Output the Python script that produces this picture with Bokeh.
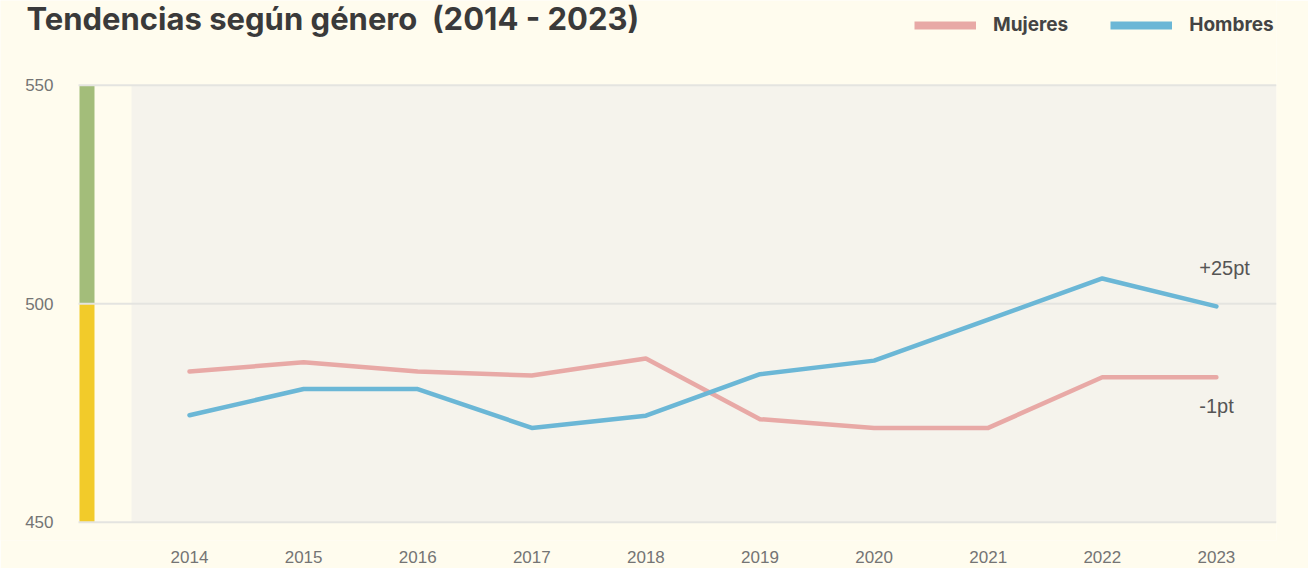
from bokeh.plotting import figure
from bokeh.models import (Range1d, FixedTicker, Legend, LegendItem, ColumnDataSource)
from bokeh.core.properties import value
from bokeh.embed import file_html
from bokeh.resources import INLINE

years = [2014, 2015, 2016, 2017, 2018, 2019, 2020, 2021, 2022, 2023]
mujeres = [484.5, 486.6, 484.5, 483.6, 487.5, 473.6, 471.6, 471.6, 483.2, 483.2]
hombres = [474.5, 480.5, 480.5, 471.6, 474.4, 483.9, 487.0, 496.4, 505.8, 499.4]
y_ticks = [450, 500, 550]
series_names = ["Mujeres", "Hombres"]
title_text = "Tendencias según género\u00a0 (2014 - 2023)"

BG = "#FFFCEE"
PANEL = "#F5F3EC"
PINK = "#E8A9A6"
BLUE = "#6BB7D6"
GREEN = "#A3BD7A"
YELLOW = "#F2CB2A"
GRID = "#E4E4E0"

# layout geometry (pixels) -> data ranges
W, H = 1308, 568
FRAME_R, FRAME_B = 1276, 540          # frame right / bottom edge (px)
X_FIRST_PX, X_STEP_PX = 189, 114.1    # pixel of first year, px per year
Y_MID_PX, PX_PER_UNIT = 303.3, 4.37    # pixel of y = 500, px per score point


def xd(px):
    return years[0] + (px - X_FIRST_PX) / X_STEP_PX


def yd(py):
    return y_ticks[1] + (Y_MID_PX - py) / PX_PER_UNIT


p = figure(width=W, height=H, output_backend="svg", toolbar_location=None,
           x_range=Range1d(xd(0), xd(FRAME_R)), y_range=Range1d(yd(FRAME_B), yd(0)),
           y_axis_location=None,
           min_border_left=0, min_border_right=W - FRAME_R, min_border_top=0,
           min_border_bottom=H - FRAME_B, background_fill_color=BG,
           border_fill_color=BG, outline_line_color=None)

# panels and score band
p.quad(left=[xd(131)], right=[xd(FRAME_R)], bottom=[y_ticks[0]], top=[y_ticks[-1]],
       fill_color=PANEL, line_color=None)
p.quad(left=[xd(79)] * 2, right=[xd(94)] * 2, bottom=y_ticks[:2], top=y_ticks[1:],
       fill_color=[YELLOW, GREEN], line_color=None)
# horizontal grid lines
p.segment(x0=[xd(78)] * len(y_ticks), x1=[xd(FRAME_R)] * len(y_ticks),
          y0=y_ticks, y1=y_ticks, line_color=GRID, line_width=2)
# y tick labels
p.text(x=[xd(53)] * len(y_ticks), y=y_ticks, text=[str(t) for t in y_ticks],
       text_font=value("Liberation Sans"), text_font_size="17px",
       text_color="#747474", text_align="right", text_baseline="middle")

src = ColumnDataSource(dict(x=years, m=mujeres, h=hombres))
p.line("x", "m", source=src, line_color=PINK, line_width=4.5, line_cap="round",
       line_join="round")
p.line("x", "h", source=src, line_color=BLUE, line_width=4.5, line_cap="round",
       line_join="round")

dh = round(hombres[-1] - hombres[0])
dm = round(mujeres[-1] - mujeres[0])
p.text(x=[years[-1] - 0.15, years[-1] - 0.15],
       y=[hombres[-1] + 8.8, mujeres[-1] - 6.7],
       text=[f"{dh:+d}pt", f"{dm:d}pt"],
       text_font=value("Liberation Sans"), text_font_size="20px",
       text_color="#555555", text_align="left", text_baseline="middle")

# title
p.text(x=[xd(26)], y=[yd(18)], text=[title_text], text_font=value("Inter"),
       text_font_style="bold", text_font_size="31px", text_color="#3A3A3A",
       text_align="left", text_baseline="middle")

# legend (thick swatches; helper renderers lie outside the visible range)
lm = p.line([years[0], years[1]], [0, 0], line_color=PINK, line_width=8)
lh = p.line([years[0], years[1]], [0, 0], line_color=BLUE, line_width=8)
legend = Legend(items=[LegendItem(label=series_names[0], renderers=[lm]),
                       LegendItem(label=series_names[1], renderers=[lh])],
                orientation="horizontal", location=(914, FRAME_B - 36),
                glyph_width=62, glyph_height=20, label_standoff=17, spacing=42,
                padding=0, margin=0, border_line_color=None,
                background_fill_alpha=0,
                label_text_font="Inter", label_text_font_style="bold",
                label_text_font_size="19px", label_text_color="#444444")
p.add_layout(legend)

p.xaxis.ticker = FixedTicker(ticks=years)
ax = p.xaxis[0]
ax.axis_line_color = None
ax.major_tick_line_color = None
ax.minor_tick_line_color = None
ax.major_label_text_font = "Liberation Sans"
ax.major_label_text_font_size = "17px"
ax.major_label_text_color = "#747474"
ax.major_label_standoff = 4

p.xgrid.grid_line_color = None
p.ygrid.grid_line_color = None

open("out.html", "w").write(file_html(p, INLINE))
